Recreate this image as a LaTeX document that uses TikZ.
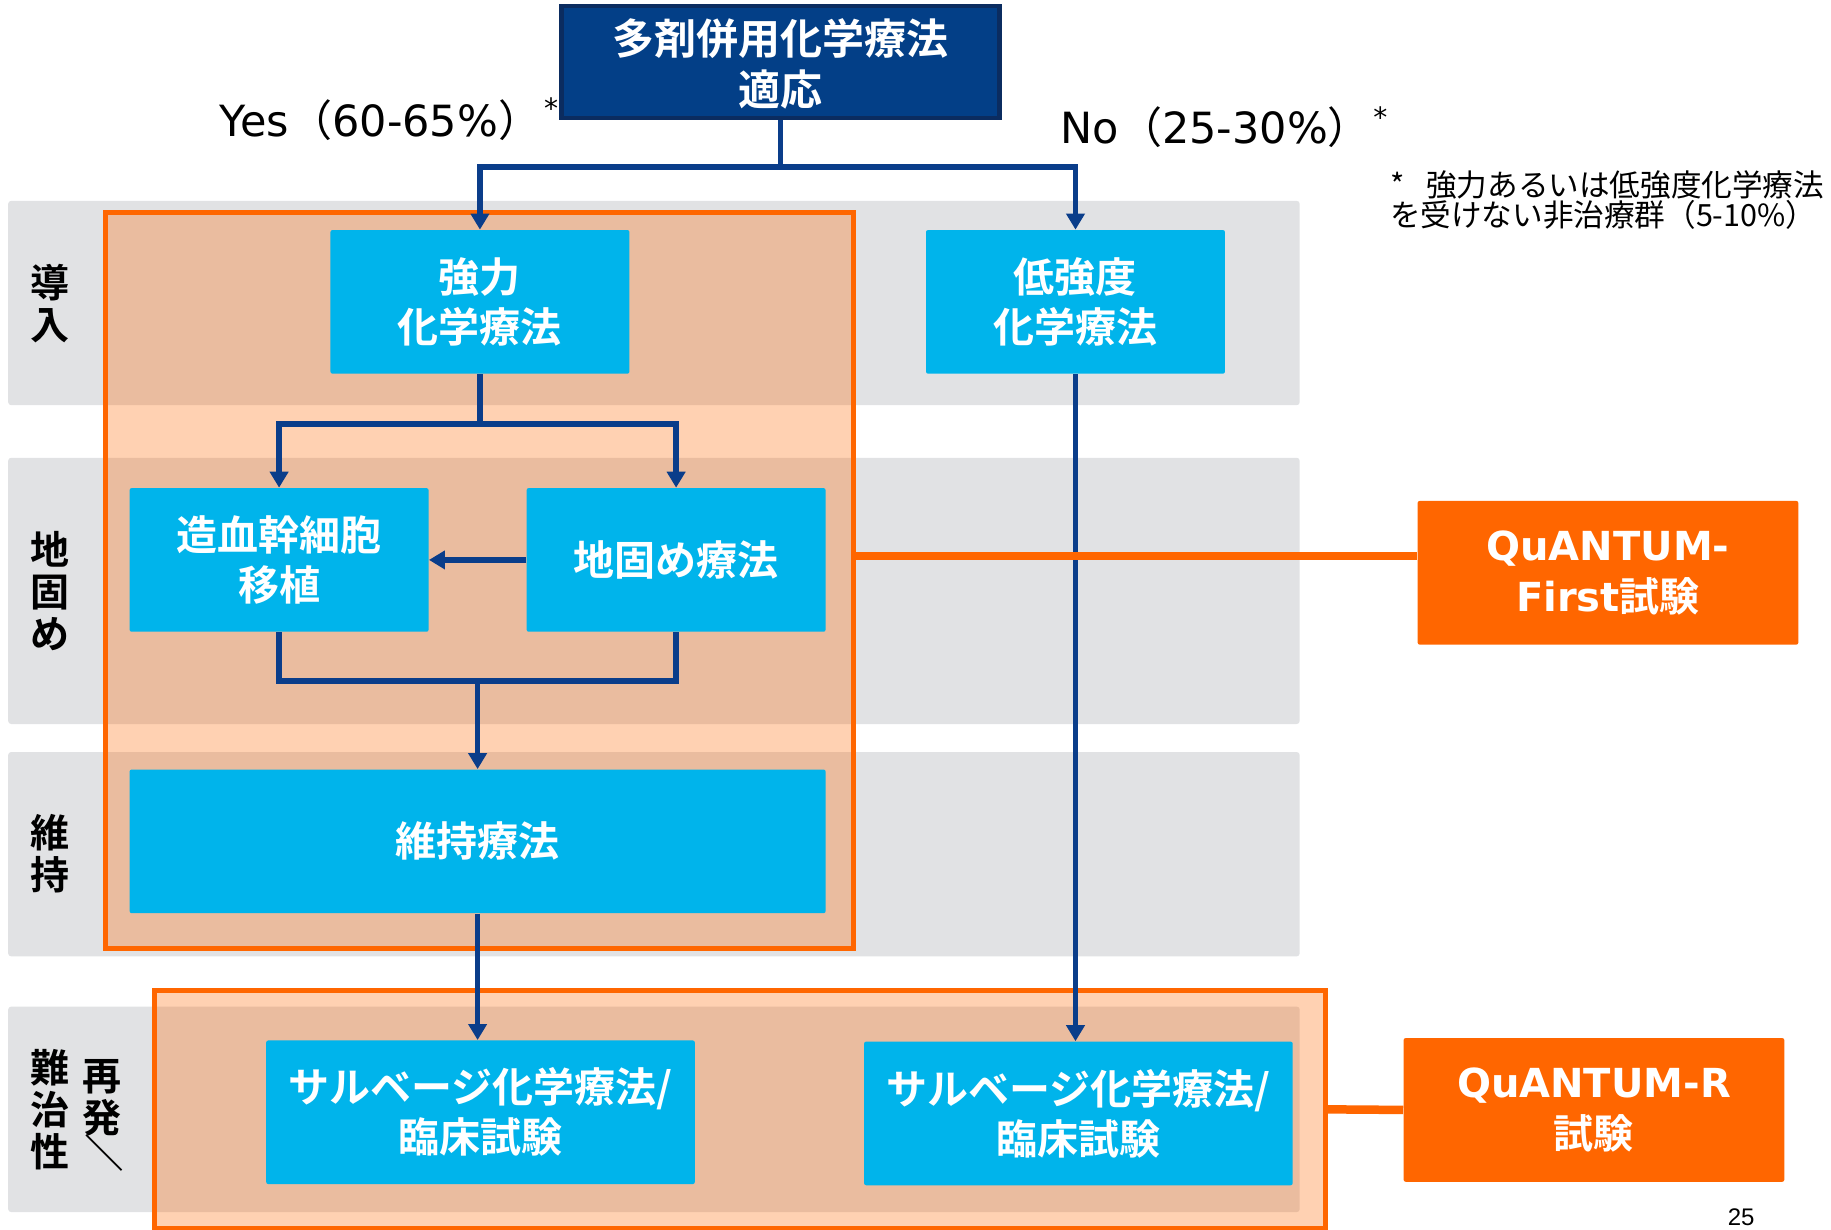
\documentclass[tikz,border=0pt]{standalone}
\usepackage{fontspec}
\setmainfont{Noto Sans CJK JP}[BoldFont={Noto Sans CJK JP Bold}]
\newfontfamily\lat{DejaVu Sans}
\newfontfamily\arl{Liberation Sans}
\usetikzlibrary{arrows.meta,fit,calc}
\definecolor{navy}{HTML}{033F87}
\definecolor{navyedge}{HTML}{0B2C60}
\definecolor{conncol}{HTML}{0A3D8A}
\definecolor{cyanbox}{HTML}{00B4EB}
\definecolor{orng}{HTML}{FF6600}
\definecolor{bandcol}{HTML}{E1E2E4}
\begin{document}
\begin{tikzpicture}[x=0.5839pt,y=-0.5839pt,
  bandbox/.style={fill=bandcol, inner sep=0pt, rounded corners=1.5pt},
  topbox/.style={draw=navyedge, line width=2.3pt, fill=navy, inner sep=0pt},
  toptxt/.style={inner sep=0pt, text=white, font=\bfseries\fontsize{21}{25.7}\selectfont, align=center},
  bluebox/.style={fill=cyanbox, inner sep=0pt, rounded corners=1pt},
  boxtxt/.style={inner sep=0pt, text=white, font=\bfseries\fontsize{20.5}{25}\selectfont, align=center},
  qbox/.style={fill=orng, inner sep=0pt, rounded corners=1pt},
  qtxt/.style={inner sep=0pt, text=white, font=\bfseries\fontsize{20}{25.7}\selectfont, align=center},
  regionbox/.style={draw=orng, line width=2.5pt, fill=orng, fill opacity=0.3, inner sep=0pt},
  sidelbl/.style={font=\bfseries\fontsize{19.5}{21}\selectfont, align=center, inner sep=0pt, text=black},
  conn/.style={draw=conncol, line width=2.75pt, -{Triangle[length=8pt,width=9pt]}},
  connline/.style={draw=conncol, line width=2.75pt},
  oconn/.style={draw=orng, line width=4.25pt},
  lbl/.style={inner sep=0pt, text=black, font=\fontsize{21.5}{24}\selectfont},
  star/.style={inner sep=0pt, text=black, font=\lat\fontsize{14}{16}\selectfont},
  note/.style={inner sep=0pt, text=black, font=\fontsize{15.3}{16}\selectfont}
]
\path[use as bounding box] (0,0) rectangle (1568,1053);

% grey bands
\node[bandbox, fit={(7,172) (1113,347)}] (band1) {};
\node[bandbox, fit={(7,392) (1113,620)}] (band2) {};
\node[bandbox, fit={(7,644) (1113,819)}] (band3) {};
\node[bandbox, fit={(7,862) (1113,1038)}] (band4) {};

% orange regions
\node[regionbox, fit={(90,182) (731,812)}] (orA) {};
\node[regionbox, fit={(132,848) (1135,1052)}] (orB) {};

% boxes
\node[topbox, fit={(481,5) (856,101)}] (top) {};
\node[bluebox, fit={(283,197) (539,320)}] (kyo) {};
\node[bluebox, fit={(793,197) (1049,320)}] (tei) {};
\node[bluebox, fit={(111,418) (367,541)}] (zok) {};
\node[bluebox, fit={(451,418) (707,541)}] (chi) {};
\node[bluebox, fit={(111,659) (707,782)}] (iji) {};
\node[bluebox, fit={(228,891) (595,1014)}] (salvL) {};
\node[bluebox, fit={(740,892) (1107,1015)}] (salvR) {};
\node[qbox, fit={(1214,429) (1540,552)}] (qf) {};
\node[qbox, fit={(1202,889) (1528,1012)}] (qr) {};

% box texts
\node[toptxt] (topT) at ([yshift=-1pt]top.center) {多剤併用化学療法\\適応};
\node[boxtxt] (kyoT) at (kyo.center) {強力\\化学療法};
\node[boxtxt] (teiT) at (tei.center) {低強度\\化学療法};
\node[boxtxt] (zokT) at (zok.center) {造血幹細胞\\移植};
\node[boxtxt] (chiT) at (chi.center) {地固め療法};
\node[boxtxt] (ijiT) at (iji.center) {維持療法};
\node[boxtxt] (salvLT) at (salvL.center) {サルベージ化学療法/\\臨床試験};
\node[boxtxt] (salvRT) at (salvR.center) {サルベージ化学療法/\\臨床試験};
\node[qtxt] (qfT) at (qf.center) {{\lat QuANTUM-}\\{\lat First}試験};
\node[qtxt] (qrT) at (qr.center) {{\lat QuANTUM-R}\\試験};

% blue connectors
\coordinate (r1) at (0,143);
\coordinate (r2) at (0,363);
\coordinate (r3) at (0,583);
\coordinate (r4) at (0,476);
\draw[connline] (top.south) -- (top.south |- r1);
\draw[conn] (top.south |- r1) -| (kyo.north);
\draw[conn] (top.south |- r1) -| (tei.north);
\draw[connline] (kyo.south) -- (kyo.south |- r2);
\draw[conn] (kyo.south |- r2) -| (zok.north);
\draw[conn] (kyo.south |- r2) -| (chi.north);
\draw[conn] (chi.west) -- (zok.east);
\draw[connline] (zok.south) -- (zok.south |- r3) -- (chi.south |- r3) -- (chi.south);
\draw[conn] (iji.north |- r3) -- (iji.north);
\draw[conn] (iji.south) -- (iji.south |- salvL.north);
\draw[conn] (tei.south) -- (tei.south |- salvR.north);

% orange connectors
\draw[oconn] (orA.east |- r4) -- (qf.west |- r4);
\draw[oconn] (orB.east) -- (qr.west);

% side labels
\node[sidelbl] (lb1) at (43,260) {導\\入};
\node[sidelbl] (lb2) at (43,506) {地\\固\\め};
\node[sidelbl] (lb3) at (43,731) {維\\持};
\node[sidelbl] (lb4) at (43,950) {難\\治\\性};
\node[sidelbl] (lb5) at (87,940) {再\\発};
\node[sidelbl, rotate=-90] (lb6) at (89,987) {／};

% yes / no labels
\node[lbl, anchor=base west] (yes) at (188,117) {{\lat Yes}（{\lat 60-65\%}）};
\node[star] (yesstar) at (472,93) {*};
\node[lbl, anchor=base west] (no) at (908,123) {{\lat No}（{\lat 25-30\%}）};
\node[star] (nostar) at (1182,100) {*};

% footnote
\node[note, anchor=base west] (fn1) at (1190,168) {*\hspace{11pt}強力あるいは低強度化学療法};
\node[note, anchor=base west] (fn2) at (1190,194) {を受けない非治療群（5-10\%）};

% page number
\node[inner sep=0pt, anchor=south, font=\arl\fontsize{12}{13}\selectfont] (pg) at (1491,1050) {25};
\end{tikzpicture}
\end{document}
